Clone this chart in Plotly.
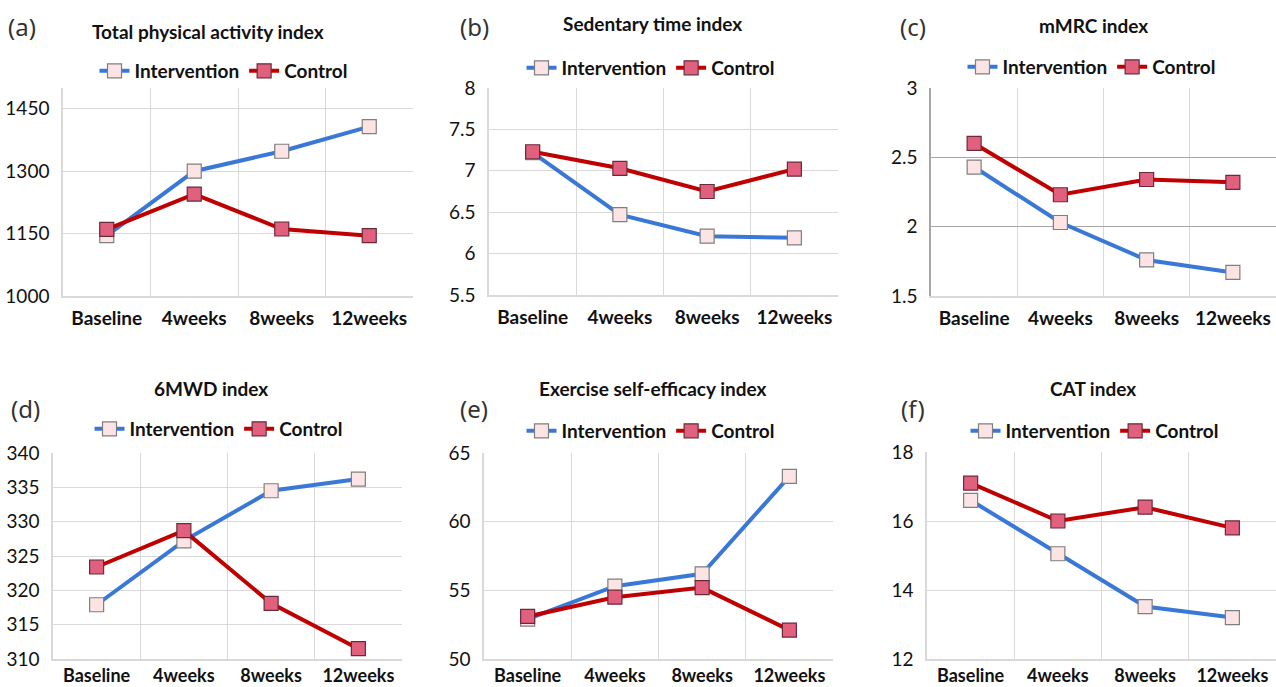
import plotly.graph_objects as go
from plotly.subplots import make_subplots

categories = ["Baseline", "4weeks", "8weeks", "12weeks"]

titles = ["Total physical activity index", "Sedentary time index", "mMRC index",
          "6MWD index", "Exercise self-efficacy index", "CAT index"]
panel_labels = ["(a)", "(b)", "(c)", "(d)", "(e)", "(f)"]

intervention_a = [1145, 1300, 1348, 1407]
control_a = [1160, 1245, 1161, 1145]
intervention_b = [7.22, 6.47, 6.21, 6.19]
control_b = [7.23, 7.03, 6.75, 7.02]
intervention_c = [2.43, 2.03, 1.76, 1.67]
control_c = [2.60, 2.23, 2.34, 2.32]
intervention_d = [317.9, 327.2, 334.5, 336.2]
control_d = [323.4, 328.7, 318.1, 311.5]
intervention_e = [52.9, 55.3, 56.2, 63.3]
control_e = [53.1, 54.5, 55.2, 52.1]
intervention_f = [16.6, 15.05, 13.52, 13.2]
control_f = [17.1, 16.0, 16.4, 15.8]

y_ranges = [(1000, 1500), (5.5, 8), (1.5, 3), (310, 340), (50, 65), (12, 18)]
y_ticks = [[1000, 1150, 1300, 1450], [5.5, 6, 6.5, 7, 7.5, 8], [1.5, 2, 2.5, 3],
           [310, 315, 320, 325, 330, 335, 340], [50, 55, 60, 65], [12, 14, 16, 18]]
y_ticktext = [["1000", "1150", "1300", "1450"], ["5.5", "6", "6.5", "7", "7.5", "8"],
              ["1.5", "2", "2.5", "3"], ["310", "315", "320", "325", "330", "335", "340"],
              ["50", "55", "60", "65"], ["12", "14", "16", "18"]]

series = [(intervention_a, control_a), (intervention_b, control_b), (intervention_c, control_c),
          (intervention_d, control_d), (intervention_e, control_e), (intervention_f, control_f)]

W, H = 1276, 687
# pixel boxes: (left, right, top, bottom)
boxes = [(63, 413, 88, 296), (489, 838, 88, 295), (931, 1276, 88, 296),
         (53, 402, 453, 659), (484, 833, 453, 659), (927, 1276, 452, 659)]
title_pos = [(208, 32), (652, 24), (1093, 25), (211, 389), (652, 389), (1093, 389)]
label_pos = [(22, 27), (474, 27), (913, 27), (25, 408), (474, 408), (913, 408)]
legend_pos = [(224, 71), (651, 68), (1092, 67), (219, 429), (651, 431), (1095, 431)]

BLUE = "#3a78d8"
RED = "#c00000"
FONT = "Lato"

fig = make_subplots(rows=2, cols=3)

for i, (inter, ctrl) in enumerate(series):
    r, c = i // 3 + 1, i % 3 + 1
    lg = "legend" if i == 0 else f"legend{i+1}"
    fig.add_trace(go.Scatter(
        x=categories, y=inter, name="Intervention", mode="lines+markers",
        line=dict(color=BLUE, width=4),
        marker=dict(symbol="square", size=14, color="#fce4e4", line=dict(color="#7f7f7f", width=1.2)),
        legend=lg), row=r, col=c)
    fig.add_trace(go.Scatter(
        x=categories, y=ctrl, name="Control", mode="lines+markers",
        line=dict(color=RED, width=4),
        marker=dict(symbol="square", size=14, color="#e0607e", line=dict(color="#6b2a3a", width=1.2)),
        legend=lg), row=r, col=c)

layout_updates = {}
for i in range(6):
    l, rr, t, b = boxes[i]
    xa = "xaxis" if i == 0 else f"xaxis{i+1}"
    ya = "yaxis" if i == 0 else f"yaxis{i+1}"
    dark = (i == 2)
    layout_updates[xa] = dict(
        domain=[l / W, rr / W], type="category", categoryorder="array", categoryarray=categories,
        range=[-0.5, 3.5], tickson="boundaries", showgrid=True, gridcolor="#d9d9d9", gridwidth=1,
        showline=True, linecolor="#d9d9d9", linewidth=1.5, ticks="",
        ticklabelstandoff=4 if i < 3 else 0,
        automargin=False,
        tickfont=dict(family=FONT, size=19 if i < 3 else 18, color="#111111", weight="bold"),
        zeroline=False)
    layout_updates[ya] = dict(
        domain=[(H - b) / H, (H - t) / H], range=list(y_ranges[i]), tickvals=y_ticks[i],
        ticktext=y_ticktext[i], showgrid=True, gridcolor="#a6a6a6" if dark else "#d9d9d9",
        gridwidth=1.2 if dark else 1, showline=True, linecolor="#a6a6a6" if dark else "#d9d9d9",
        linewidth=1.5, ticks="", ticklabelstandoff=8, zeroline=False, automargin=False,
        tickfont=dict(family=FONT, size=19, color="#111111"))
    lg = "legend" if i == 0 else f"legend{i+1}"
    lx, ly = legend_pos[i]
    layout_updates[lg] = dict(
        orientation="h", x=lx / W, y=(H - ly) / H, xanchor="center", yanchor="middle",
        xref="paper", yref="paper", bgcolor="rgba(0,0,0,0)",
        font=dict(family=FONT, size=19, color="#111111", weight="bold"),
        itemwidth=30, tracegroupgap=0)

fig.update_layout(**layout_updates)

annotations = []
for i in range(6):
    tx, ty = title_pos[i]
    annotations.append(dict(text=titles[i], x=tx / W, y=(H - ty) / H, xref="paper", yref="paper",
                            xanchor="center", yanchor="middle", showarrow=False,
                            font=dict(family=FONT, size=19, color="#111111", weight="bold")))
    px, py = label_pos[i]
    annotations.append(dict(text=panel_labels[i], x=px / W, y=(H - py) / H, xref="paper", yref="paper",
                            xanchor="center", yanchor="middle", showarrow=False,
                            font=dict(family="Noto Sans", size=24, color="#333333")))

fig.update_layout(
    annotations=annotations,
    width=W, height=H, margin=dict(l=0, r=0, t=0, b=0, autoexpand=False),
    paper_bgcolor="white", plot_bgcolor="white", showlegend=True,
)

fig.write_html("out.html", config={"displayModeBar": False},
               post_script="document.body.style.margin='0';document.body.style.padding='0';")
